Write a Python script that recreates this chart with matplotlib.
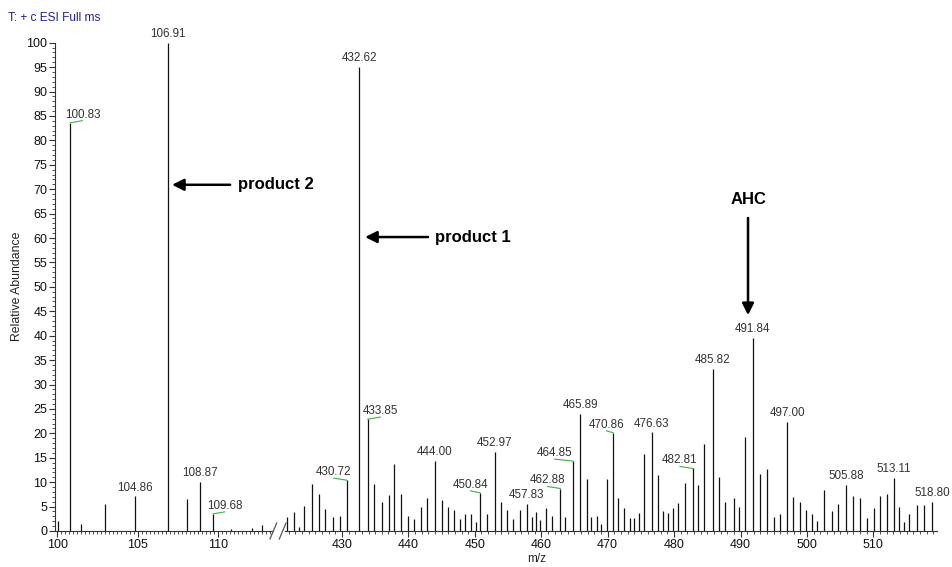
import matplotlib
matplotlib.use("Agg")
import matplotlib.pyplot as plt
from matplotlib.lines import Line2D
from matplotlib.ticker import MultipleLocator

plt.rcParams['font.family'] = ['Liberation Sans', 'DejaVu Sans']

# left part of the broken m/z axis
mz_left = [100.03, 100.83, 101.51, 103.00, 104.86, 106.91, 108.06, 108.87,
           109.68, 110.80, 112.10, 112.70]
int_left = [2.1, 83.6, 1.4, 5.5, 7.1, 100.0, 6.5, 10.0, 3.5, 0.4, 0.6, 1.3]

# right part
mz_right = [421.78, 422.79, 423.59, 424.30, 425.45, 426.55, 427.50, 428.62, 429.71,
            430.72, 432.62, 433.85, 434.83, 436.04, 437.05, 437.89, 438.85, 440.00,
            440.85, 441.86, 442.81, 444.00, 445.02, 445.97, 446.83, 447.78, 448.49,
            449.43, 450.14, 450.84, 451.84, 452.97, 453.99, 454.90, 455.80, 456.77,
            457.83, 458.66, 459.22, 459.82, 460.72, 461.63, 462.88, 463.54, 464.85,
            465.89, 466.85, 467.54, 468.36, 469.04, 469.86, 470.86, 471.57, 472.52,
            473.38, 474.03, 474.74, 475.43, 476.63, 477.54, 478.34, 479.05, 479.80,
            480.64, 481.65, 482.81, 483.61, 484.55, 485.82, 486.77, 487.72, 489.07,
            489.78, 490.68, 491.84, 492.94, 494.05, 495.04, 495.91, 497.00, 497.86,
            499.00, 499.85, 500.80, 501.50, 502.50, 503.70, 504.60, 505.88, 506.89,
            508.00, 509.09, 510.05, 510.96, 512.00, 513.11, 513.90, 514.60, 515.40,
            516.50, 517.60, 518.80]
int_right = [2.9, 3.9, 0.9, 5.2, 9.7, 7.6, 4.5, 2.8, 3.1,
             10.4, 95.1, 22.9, 9.6, 6.0, 7.3, 13.7, 7.5, 3.1,
             2.4, 5.0, 6.8, 14.4, 6.3, 4.9, 4.3, 2.4, 3.5,
             3.5, 1.8, 7.8, 3.5, 16.2, 5.9, 4.2, 2.5, 4.2,
             5.5, 2.9, 3.9, 2.3, 4.7, 3.1, 8.7, 2.8, 14.3,
             24.0, 10.6, 2.8, 3.1, 1.4, 10.6, 20.1, 6.7, 4.7,
             2.6, 2.6, 3.6, 15.7, 20.2, 11.5, 4.1, 3.6, 4.7,
             5.8, 9.9, 12.8, 9.4, 17.8, 33.2, 11.0, 5.9, 6.8,
             5.0, 19.3, 39.5, 11.6, 12.7, 2.9, 3.5, 22.3, 7.0,
             5.9, 4.3, 3.5, 2.0, 8.4, 4.1, 5.5, 9.4, 7.2,
             6.7, 2.7, 4.8, 7.2, 7.6, 10.8, 5.0, 1.9, 3.5,
             5.3, 5.3, 5.9]

labels_left = [100.83, 104.86, 106.91, 108.87, 109.68]
labels_right = [430.72, 432.62, 433.85, 444.00, 450.84, 452.97, 457.83, 462.88,
                464.85, 465.89, 470.86, 476.63, 482.81, 485.82, 491.84, 497.00,
                505.88, 513.11, 518.80]

# labels pushed sideways (pixels), joined to their peak by a green line
label_shift = {100.83: 12, 109.68: 12, 430.72: -13, 433.85: 13, 450.84: -10,
               462.88: -13, 464.85: -19, 470.86: -7, 482.81: -13}

fig = plt.figure(figsize=(9.52, 5.67), dpi=100)
axL = fig.add_axes([0.0578, 0.0635, 0.2279, 0.8612])
axR = fig.add_axes([0.2992, 0.0635, 0.6852, 0.8612])
axR.patch.set_visible(False)
axL.set_zorder(2)
axL.patch.set_visible(False)

axL.set_xlim(99.87, 113.35)
axR.set_xlim(421.4, 519.6)

tick_kw = dict(labelsize=9, color='#333333', labelcolor='#111111', direction='out')
for ax, mz, inten, labs in [(axL, mz_left, int_left, labels_left),
                            (axR, mz_right, int_right, labels_right)]:
    ax.set_ylim(0, 100)
    ax.vlines(mz, 0, inten, color='#111111', lw=0.9)
    for s in ['top', 'right']:
        ax.spines[s].set_visible(False)
    ax.spines['bottom'].set_color('#333333')
    ax.spines['bottom'].set_linewidth(0.8)
    ax.tick_params(axis='x', which='major', length=4, width=0.8, pad=2, **tick_kw)
    ax.tick_params(axis='x', which='minor', length=2, width=0.6, color='#333333', direction='out')
    for m, h in zip(mz, inten):
        if m not in labs:
            continue
        dx = label_shift.get(m, 0) * 0.72
        if dx:
            ax.annotate(f"{m:.2f}", xy=(m, h), xytext=(dx, 1.5), textcoords='offset points',
                        ha='center', va='bottom', fontsize=8.4, color='#333333',
                        annotation_clip=False,
                        arrowprops=dict(arrowstyle='-', color='#3cb043', lw=0.8,
                                        relpos=(0.5, 0), shrinkA=0, shrinkB=0))
        else:
            ax.annotate(f"{m:.2f}", xy=(m, h), xytext=(0, 2), textcoords='offset points',
                        ha='center', va='bottom', fontsize=8.4, color='#333333',
                        annotation_clip=False)

axL.xaxis.set_major_locator(MultipleLocator(5))
axL.xaxis.set_minor_locator(MultipleLocator(0.25))
axR.xaxis.set_major_locator(MultipleLocator(10))
axR.xaxis.set_minor_locator(MultipleLocator(1))

axL.spines['left'].set_color('#333333')
axL.spines['left'].set_linewidth(0.8)
axL.yaxis.set_major_locator(MultipleLocator(5))
axL.yaxis.set_minor_locator(MultipleLocator(1))
axL.tick_params(axis='y', which='major', length=4, width=0.8, pad=1.5, **tick_kw)
axL.tick_params(axis='y', which='minor', length=2, width=0.6, color='#333333', direction='out')

axR.spines['left'].set_visible(False)
axR.set_yticks([])
axR.tick_params(axis='y', which='both', left=False)

# axis break marks
for x0 in [270, 279.3]:
    fig.add_artist(Line2D([x0 / 952, (x0 + 6.7) / 952], [1 - 539 / 567, 1 - 523 / 567],
                          color='#555555', lw=0.9))

arrow = dict(arrowstyle='-|>,head_length=0.5,head_width=0.25', color='black', lw=1.8,
             mutation_scale=14, shrinkA=0, shrinkB=0)
axL.annotate('', xy=(107.14, 70.9), xytext=(110.75, 70.9), arrowprops=arrow,
             annotation_clip=False)
axL.text(111.24, 70.9, 'product 2', ha='left', va='center', fontsize=12,
         fontweight='bold', clip_on=False)
axR.annotate('', xy=(433.48, 60.2), xytext=(442.96, 60.2), arrowprops=arrow)
axR.text(444.0, 60.2, 'product 1', ha='left', va='center', fontsize=12, fontweight='bold')
axR.annotate('', xy=(491.13, 44.2), xytext=(491.13, 64.1), arrowprops=arrow)
axR.text(491.13, 67.8, 'AHC', ha='center', va='center', fontsize=12, fontweight='bold')

fig.text(8 / 952, 1 - 18 / 567, 'T: + c ESI Full ms', ha='left', va='center',
         fontsize=8.6, color='#22228a')
fig.text(17 / 952, 1 - 286 / 567, 'Relative Abundance', rotation=90, ha='center',
         va='center', fontsize=8.8, color='#222222')
fig.text(537 / 952, 1 - 559 / 567, 'm/z', ha='center', va='center', fontsize=8.5,
         color='#222222')

fig.savefig('out.png', dpi=100)
